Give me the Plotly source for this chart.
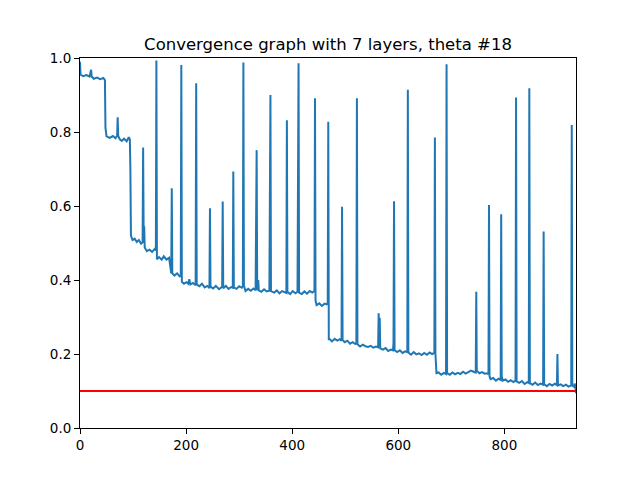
import plotly.graph_objects as go

# Iteration index and cost value at each vertex
iterations = [
    0, 1, 6, 12, 18, 21, 22, 26, 32, 38, 44, 47, 48, 50, 56, 62, 67, 70, 71, 72,
    75, 79, 83, 88, 92, 94, 95, 96, 99, 103, 107, 111, 115, 118, 119, 120, 121, 122,
    126, 131, 136, 141, 143, 144, 145, 149, 154, 158, 163, 168, 170, 172, 173, 174,
    178, 183, 188, 190, 191, 192, 196, 201, 204, 206, 208, 213, 218, 219, 220, 225,
    230, 235, 240, 244, 245, 246, 251, 256, 262, 266, 268, 269, 270, 275, 280, 285,
    288, 289, 290, 295, 300, 305, 307, 308, 309, 312, 317, 322, 327, 331, 333, 334,
    336, 337, 342, 347, 352, 357, 359, 360, 366, 371, 376, 381, 387, 389, 390, 391,
    396, 401, 406, 410, 412, 413, 418, 423, 428, 433, 438, 442, 443, 444, 446, 451,
    456, 461, 465, 467, 468, 469, 471, 475, 480, 485, 490, 493, 494, 495, 499, 504,
    509, 514, 519, 521, 522, 523, 528, 533, 538, 543, 548, 553, 558, 562, 563, 564,
    565, 566, 571, 576, 581, 586, 590, 591, 592, 593, 598, 603, 608, 613, 617, 618,
    619, 624, 629, 634, 639, 644, 649, 654, 659, 664, 668, 669, 670, 672, 676, 681,
    686, 690, 691, 692, 697, 702, 707, 712, 717, 722, 727, 732, 737, 742, 746, 747,
    748, 753, 758, 763, 768, 770, 771, 772, 774, 779, 784, 789, 793, 794, 795, 797,
    802, 807, 812, 817, 821, 822, 823, 828, 833, 838, 843, 846, 847, 848, 853, 858,
    863, 868, 873, 874, 875, 880, 885, 890, 895, 899, 900, 901, 906, 911, 916, 921,
    926, 927, 928, 931, 933, 935,
]
cost = [
    0.99, 0.955, 0.951, 0.954, 0.95, 0.968, 0.95, 0.944, 0.947, 0.943, 0.946, 0.94, 0.812, 0.788, 0.784, 0.789, 0.783, 0.79, 0.84, 0.79,
    0.78, 0.776, 0.782, 0.775, 0.786, 0.78, 0.695, 0.52, 0.508, 0.512, 0.503, 0.508, 0.498, 0.502, 0.758, 0.52, 0.545, 0.488,
    0.478, 0.482, 0.476, 0.484, 0.48, 0.993, 0.456, 0.462, 0.455, 0.464, 0.455, 0.46, 0.43, 0.418, 0.648, 0.418,
    0.412, 0.418, 0.41, 0.412, 0.981, 0.395, 0.39, 0.394, 0.39, 0.402, 0.388, 0.392, 0.386, 0.932, 0.388, 0.383,
    0.39, 0.38, 0.384, 0.378, 0.594, 0.382, 0.377, 0.384, 0.375, 0.38, 0.382, 0.612, 0.378, 0.384, 0.376, 0.381,
    0.379, 0.693, 0.38, 0.376, 0.383, 0.379, 0.384, 0.988, 0.385, 0.37, 0.376, 0.371, 0.377, 0.372, 0.751, 0.372,
    0.4, 0.372, 0.368, 0.375, 0.369, 0.371, 0.9, 0.37, 0.366, 0.372, 0.364, 0.37, 0.366, 0.365, 0.832, 0.368,
    0.362, 0.37, 0.364, 0.368, 0.986, 0.366, 0.362, 0.369, 0.363, 0.37, 0.366, 0.37, 0.891, 0.345, 0.332, 0.337,
    0.33, 0.336, 0.334, 0.338, 0.828, 0.24, 0.24, 0.234, 0.241, 0.236, 0.24, 0.236, 0.598, 0.238, 0.232, 0.236,
    0.228, 0.232, 0.227, 0.23, 0.891, 0.226, 0.22, 0.225, 0.221, 0.219, 0.222, 0.217, 0.22, 0.218, 0.31, 0.22,
    0.298, 0.215, 0.212, 0.216, 0.208, 0.212, 0.21, 0.23, 0.613, 0.21, 0.205, 0.21, 0.203, 0.207, 0.205, 0.914,
    0.204, 0.198, 0.205, 0.199, 0.202, 0.197, 0.203, 0.198, 0.204, 0.2, 0.203, 0.785, 0.2, 0.148, 0.15, 0.144,
    0.149, 0.146, 0.983, 0.148, 0.144, 0.15, 0.145, 0.149, 0.146, 0.152, 0.147, 0.15, 0.155, 0.152, 0.15, 0.368,
    0.155, 0.148, 0.151, 0.147, 0.148, 0.145, 0.603, 0.14, 0.132, 0.135, 0.128, 0.133, 0.13, 0.578, 0.14, 0.128,
    0.131, 0.125, 0.129, 0.124, 0.128, 0.893, 0.126, 0.122, 0.127, 0.119, 0.124, 0.122, 0.918, 0.121, 0.117, 0.123,
    0.116, 0.12, 0.117, 0.531, 0.118, 0.113, 0.119, 0.115, 0.12, 0.116, 0.2, 0.115, 0.118, 0.113, 0.117, 0.112,
    0.115, 0.819, 0.115, 0.112, 0.12, 0.094,
]
threshold = 0.1
x_ticks = [0, 200, 400, 600, 800]
y_ticks = [0.0, 0.2, 0.4, 0.6, 0.8, 1.0]

fig = go.Figure()

fig.add_trace(go.Scatter(
    x=iterations, y=cost, mode="lines",
    line=dict(color="#1f77b4", width=2),
    showlegend=False,
))

# target cost line across the whole run
fig.add_trace(go.Scatter(
    x=[iterations[0], iterations[-1]], y=[threshold, threshold], mode="lines",
    line=dict(color="#ff0000", width=2),
    showlegend=False,
))

axis_style = dict(
    showline=True, linecolor="black", linewidth=1, mirror=True,
    showgrid=False, zeroline=False,
    ticks="outside", ticklen=5, tickwidth=1, tickcolor="black",
    tickfont=dict(family="DejaVu Sans", size=13.5, color="black"),
)

# page body has an 8px margin, so the figure is 8px smaller and shifted
fig.update_layout(
    width=632, height=472,
    margin=dict(l=72, r=64, t=50, b=52),
    paper_bgcolor="white", plot_bgcolor="white",
    title=dict(
        text="Convergence graph with 7 layers, theta #18",
        font=dict(family="DejaVu Sans", size=16.5, color="black"),
        x=0.5, xref="paper", xanchor="center",
        y=1, yref="paper", yanchor="bottom", pad=dict(b=8),
    ),
    xaxis=dict(range=[0, 935], tickvals=x_ticks, **axis_style),
    yaxis=dict(range=[0, 1], tickvals=y_ticks, tickformat=".1f", **axis_style),
)

fig.write_html("out.html")
